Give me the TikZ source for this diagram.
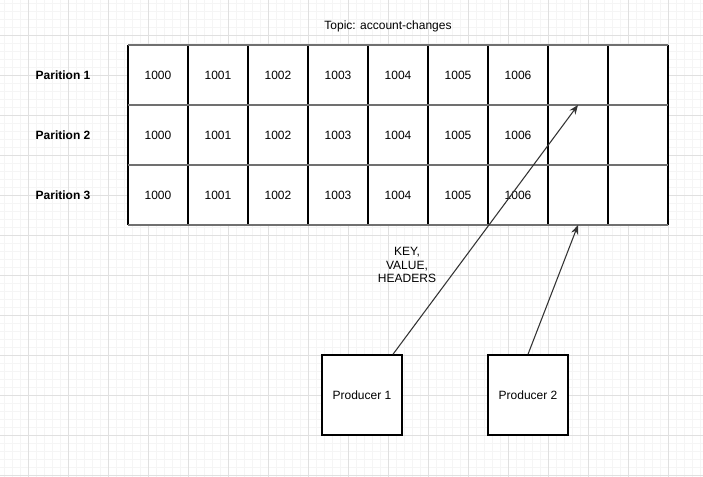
\documentclass[tikz,border=0pt]{standalone}
\usepackage{fontspec}
\setmainfont{Liberation Sans}
\usetikzlibrary{arrows.meta,calc}
\definecolor{gridminor}{HTML}{F5F5F5}
\definecolor{gridmajor}{HTML}{E0E0E0}
\definecolor{rowline}{HTML}{707070}
\definecolor{arrowc}{HTML}{333333}
\tikzset{
  txt/.style={font=\fontsize{9}{11}\selectfont, inner sep=0pt},
  rowlabel/.style={txt, font=\fontsize{9}{11}\selectfont\bfseries},
  prodbox/.style={draw=black, line width=1.1pt, minimum width=60pt, minimum height=60pt, inner sep=0pt, font=\fontsize{9}{11}\selectfont},
  conn/.style={draw=arrowc, line width=0.8pt, -{Stealth[length=7pt,width=5.5pt]}},
}
\begin{document}
\begin{tikzpicture}[x=0.75pt,y=-0.75pt]
\useasboundingbox (0,0) rectangle (703,477);
\fill[white] (0,0) rectangle (703,477);
% grid
\foreach \gx in {4,12,...,700} \draw[gridminor,line width=0.5pt] (\gx,0) -- (\gx,477);
\foreach \gy in {3,11,...,475} \draw[gridminor,line width=0.5pt] (0,\gy) -- (703,\gy);
\foreach \gx in {28,68,...,700} \draw[gridmajor,line width=0.6pt] (\gx,0) -- (\gx,477);
\foreach \gy in {35,75,...,475} \draw[gridmajor,line width=0.6pt] (0,\gy) -- (703,\gy);
% table
\fill[white] (128,45) rectangle (668,225);
\foreach \cx in {128,188,...,668} \draw[black,line width=0.8pt] (\cx,45) -- (\cx,225);
\foreach \cy in {45,105,165,225} \draw[rowline,line width=1.8pt] (128,\cy) -- (668,\cy);
% cell texts
\foreach \r/\ry in {1/75,2/135,3/195}{
  \foreach \k [count=\i from 0] in {1000,1001,1002,1003,1004,1005,1006}{
    \node[txt] (c\r-\i) at (158+60*\i,\ry) {\k};
  }
}
% title and row labels
\node[txt] (title) at (388,26) {Topic: account-changes};
\node[rowlabel] (r1) at (63,75) {Parition 1};
\node[rowlabel] (r2) at (63,135) {Parition 2};
\node[rowlabel] (r3) at (63,195) {Parition 3};
% producers
\node[prodbox,fill=white] (p1) at (362,395) {Producer 1};
\node[prodbox,fill=white] (p2) at (528,395) {Producer 2};
% targets
\coordinate (t1) at (578,105);
\coordinate (t2) at (578,225);
\draw[conn] ([xshift=23.25pt]p1.north) -- (t1);
\draw[conn] (p2.north) -- (t2);
% label
\node[txt, align=center, font=\fontsize{9}{10.2}\selectfont] (lbl) at (407,265) {KEY,\\VALUE,\\HEADERS};
\end{tikzpicture}
\end{document}
